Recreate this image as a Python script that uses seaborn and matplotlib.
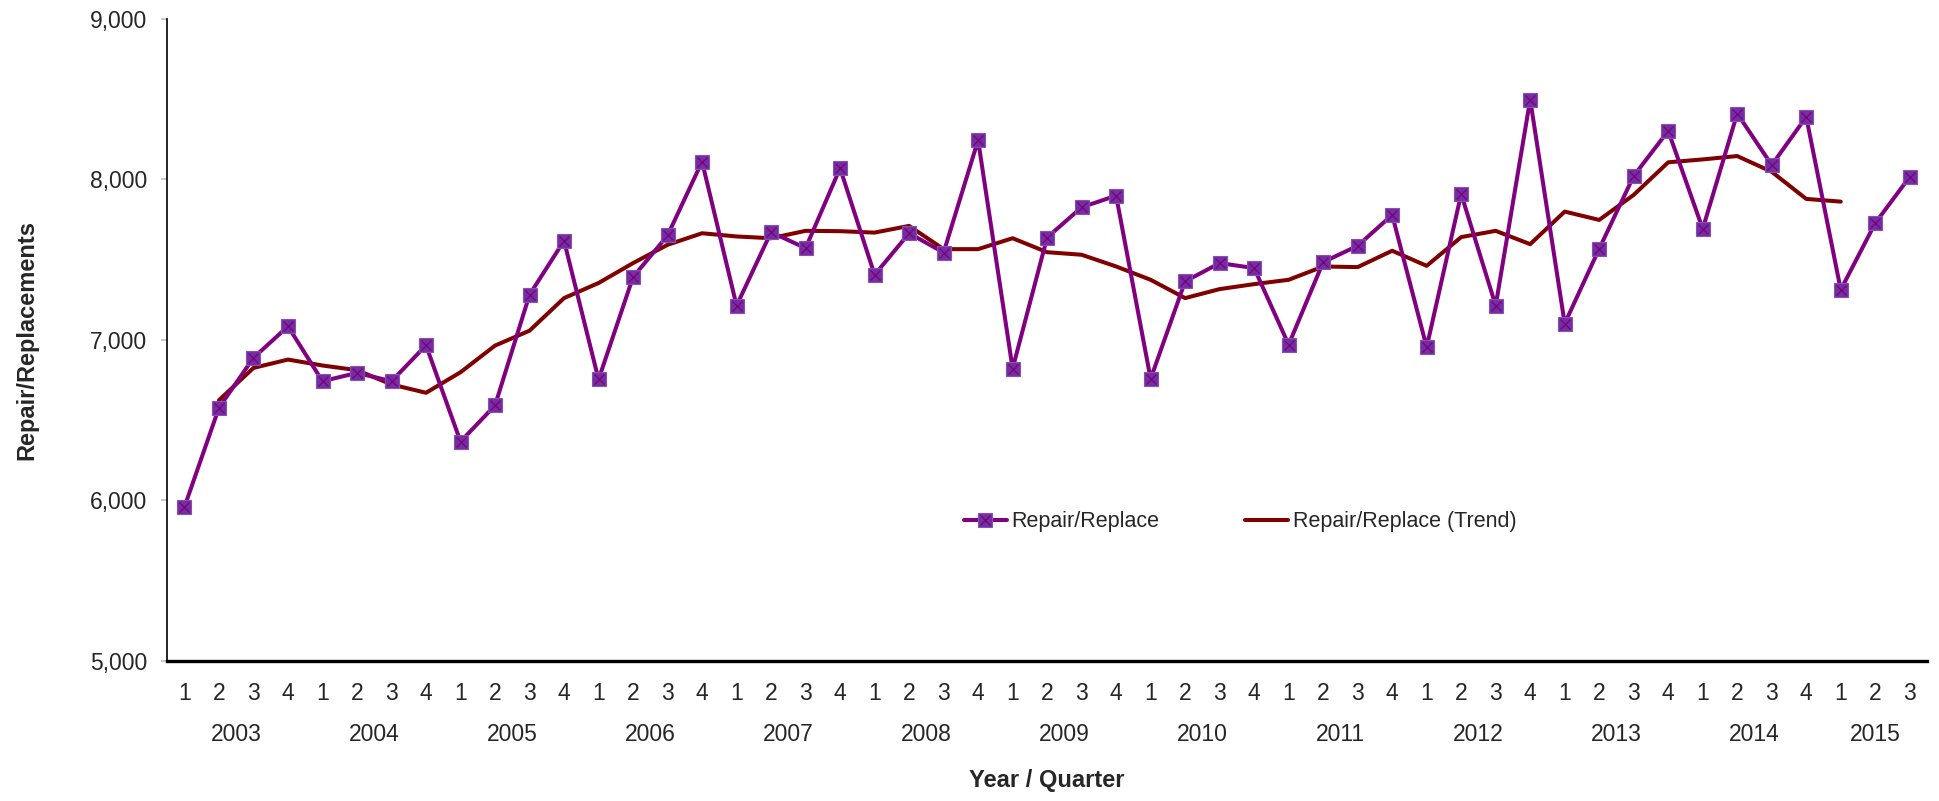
from __future__ import annotations

import matplotlib

matplotlib.use("Agg")
import matplotlib.pyplot as plt
import matplotlib.ticker as mticker
import numpy as np
import pandas as pd
import seaborn as sns
from matplotlib.legend_handler import HandlerTuple


YEARS = list(range(2003, 2016))
QUARTERS = [q for y in YEARS for q in (1, 2, 3, 4)][:51]

REPAIR = [
    5960, 6578, 6889, 7085, 6743, 6795, 6743, 6967, 6367, 6592,
    7282, 7618, 6754, 7392, 7651, 8111, 7214, 7672, 7572, 8070,
    7406, 7665, 7545, 8245, 6822, 7638, 7827, 7899, 6758, 7365,
    7479, 7448, 6971, 7485, 7587, 7779, 6955, 7910, 7214, 8498,
    7102, 7568, 8022, 8303, 7692, 8411, 8090, 8390, 7313, 7728, 8017,
]

# trend starts at 2003 Q2 and stops at 2015 Q1
TREND = [np.nan] + [
    6625, 6826, 6878, 6841, 6812, 6723, 6671, 6799, 6965, 7058, 7261, 7355,
    7479, 7593, 7665, 7645, 7634, 7680, 7678, 7669, 7711, 7566, 7566, 7634, 7547,
    7531, 7458, 7375, 7261, 7317, 7348, 7375, 7458, 7454, 7556, 7462, 7641, 7680, 7597,
    7800, 7748, 7904, 8107, 8125, 8146, 8048, 7879, 7862,
] + [np.nan, np.nan]

PURPLE = "#800080"
MARKER_FILL = "#7030A0"
TREND_RED = "#800000"


def main() -> None:
    sns.set_style("white")
    plt.rcParams["font.family"] = ["Liberation Sans", "DejaVu Sans"]

    df = pd.DataFrame({
        "pos": np.arange(len(REPAIR)),
        "repair": REPAIR,
        "trend": TREND,
    })

    fig = plt.figure(figsize=(19.40, 8.01), dpi=100)
    ax = fig.add_axes([0.0862, 0.1748, 0.9071, 0.8015])

    sns.lineplot(data=df, x="pos", y="repair", ax=ax, color=PURPLE, lw=2.9,
                 marker="s", markersize=9.5, markerfacecolor=MARKER_FILL,
                 markeredgecolor="#8a4fb5", markeredgewidth=0.8, zorder=3)
    raw_line = ax.lines[-1]
    ax.plot(df["pos"], df["repair"], ls="none", marker="x", markersize=7.5,
            color=PURPLE, markeredgewidth=1.0, zorder=4)
    x_line = ax.lines[-1]
    sns.lineplot(data=df.dropna(), x="pos", y="trend", ax=ax, color=TREND_RED,
                 lw=2.9, zorder=2)
    trend_line = ax.lines[-1]

    ax.set_xlim(-0.5, len(REPAIR) - 0.5)
    ax.set_ylim(5000, 9000)
    ax.yaxis.set_major_locator(mticker.MultipleLocator(1000))
    ax.yaxis.set_major_formatter(mticker.StrMethodFormatter("{x:,.0f}"))

    # quarters as major ticks, years as minor ticks underneath
    ax.xaxis.remove_overlapping_locs = False
    ax.set_xticks(df["pos"])
    ax.set_xticklabels([str(q) for q in QUARTERS])
    year_pos = []
    for i, y in enumerate(YEARS):
        n = sum(1 for k in range(len(REPAIR)) if k // 4 == i)
        year_pos.append(4 * i + (n - 1) / 2)
    ax.set_xticks(year_pos, minor=True)
    ax.set_xticklabels([str(y) for y in YEARS], minor=True)

    ax.tick_params(axis="x", which="major", length=0, pad=15, labelsize=16.5)
    ax.tick_params(axis="x", which="minor", length=0, pad=45, labelsize=16.5)
    ax.tick_params(axis="y", length=4.3, width=1.2, color="#c0c0c0", pad=10,
                   labelsize=16.5, left=True)

    for side in ("top", "right"):
        ax.spines[side].set_visible(False)
    ax.spines["left"].set_color("black")
    ax.spines["left"].set_linewidth(1.2)
    ax.spines["bottom"].set_color("black")
    ax.spines["bottom"].set_linewidth(2.4)

    ax.set_xlabel("Year / Quarter", fontsize=17, fontweight="bold", labelpad=16)
    ax.set_ylabel("Repair/Replacements", fontsize=17, fontweight="bold")
    ax.yaxis.set_label_coords(-0.073, 0.5)

    ax.legend([(raw_line, x_line), trend_line],
              ["Repair/Replace", "Repair/Replace (Trend)"],
              handler_map={tuple: HandlerTuple(ndivide=1)},
              loc="center", bbox_to_anchor=(0.6096, 0.2165), ncol=2,
              frameon=False, fontsize=15.5, handlelength=2.0, handletextpad=0.2,
              columnspacing=4.0)

    fig.savefig("out.png", dpi=100, facecolor="white")
    plt.close(fig)


if __name__ == "__main__":
    main()
